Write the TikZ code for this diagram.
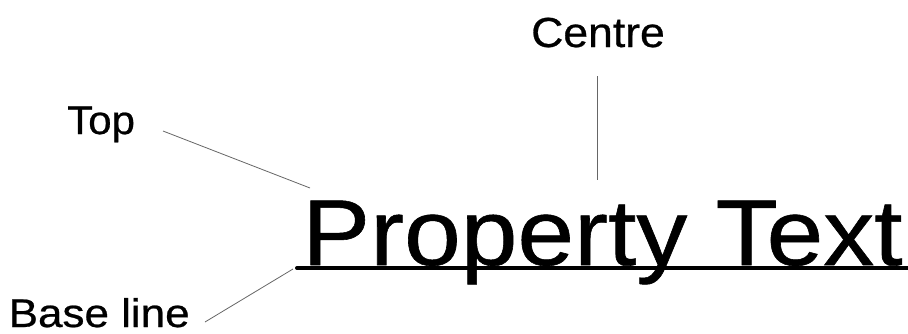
\documentclass[tikz,border=0pt]{standalone}
\usepackage{fontspec}
\setmainfont{Liberation Sans}[FakeBold=0.6]
\usetikzlibrary{calc}

\begin{document}
\begin{tikzpicture}[x=1pt,y=-1pt,
  lbl/.style={inner sep=0pt,anchor=base west},
  bigtxt/.style={inner sep=0pt,anchor=base west,font=\fontsize{93.5}{110}\selectfont},
  leader/.style={line width=0.8pt,color=black!60}]
\useasboundingbox (0,0) rectangle (908,333);

% the sample text and its underline
\node[bigtxt] (prop) at (302,265) {\scalebox{1.09}[1]{Property Text}};
\draw[line width=4pt,line cap=round] (297,268) -- (912,268);

% labels
\node[lbl,font=\fontsize{42}{48}\selectfont] (centre) at (531,47) {\scalebox{1.06}[1]{Centre}};
\node[lbl,font=\fontsize{40}{44}\selectfont] (top) at (67,134) {\scalebox{1.05}[1]{Top}};
\node[lbl,font=\fontsize{40}{44}\selectfont] (base) at (8.5,327) {\scalebox{1.1}[1]{Base line}};

% leader ends
\coordinate (c1) at (597,76);
\coordinate (c2) at (597,180);
\coordinate (t1) at (163,131);
\coordinate (t2) at (310,188);
\coordinate (b1) at (205,322);
\coordinate (b2) at (293,269);

\draw[leader] (c1) -- (c2);
\draw[leader] (t1) -- (t2);
\draw[leader] (b1) -- (b2);

\end{tikzpicture}
\end{document}
